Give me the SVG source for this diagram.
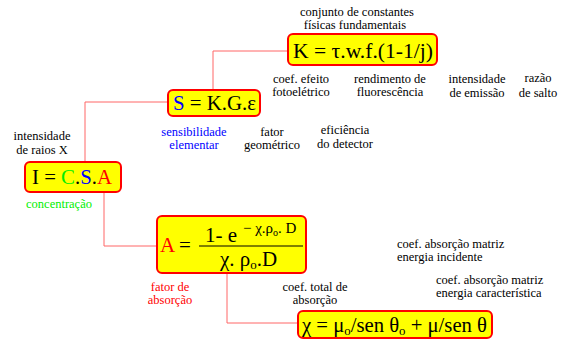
<svg xmlns="http://www.w3.org/2000/svg" width="562" height="341" viewBox="0 0 562 341">
<style>
text{font-family:"Liberation Serif","Times New Roman",serif;fill:#000}
.lb{font-size:12.5px;text-anchor:middle}
.ll{font-size:12.5px}
.box{fill:#ffff00;stroke:#ff0000;stroke-width:2}
.eq{font-size:21px}
.con{fill:none;stroke:#ff6666;stroke-width:1}
.red{fill:#ff0000}.blue{fill:#0000ff}.green{fill:#00ee00}
</style>
<rect width="562" height="341" fill="#fff"/>
<g id="connectors">
<path class="con" d="M288,51 H213 V90"/>
<path class="con" d="M168,102 H85 V162"/>
<path class="con" d="M104,192 V246 H157"/>
<path class="con" d="M227,273 V323 H298"/>
</g>
<g id="nodeK">
<rect class="box" x="288" y="34" width="149" height="31" rx="5"/>
<text class="eq" x="293" y="58" textLength="140" lengthAdjust="spacingAndGlyphs">K = τ.w.f.(1-1/j)</text>
</g>
<g id="nodeS">
<rect class="box" x="168" y="90" width="92" height="26" rx="5"/>
<text class="eq" x="173" y="110" textLength="83" lengthAdjust="spacingAndGlyphs"><tspan class="blue">S</tspan> = K.G.ε</text>
</g>
<g id="nodeI">
<rect class="box" x="25" y="162" width="96" height="30" rx="5"/>
<text class="eq" x="32" y="184" textLength="80" lengthAdjust="spacingAndGlyphs">I = <tspan class="green">C</tspan>.<tspan class="blue">S</tspan>.<tspan class="red">A</tspan></text>
</g>
<g id="nodeA">
<rect class="box" x="157" y="216" width="149" height="57" rx="5"/>
<text class="eq red" x="160" y="252">A</text>
<text class="eq" x="179" y="252">=</text>
<text class="eq" x="205" y="242">1- e</text>
<text x="243" y="233" style="font-size:15px">− χ.ρ<tspan style="font-size:10px" dy="3">o</tspan><tspan dy="-3">. D</tspan></text>
<line x1="199" y1="246" x2="303" y2="246" stroke="#000" stroke-width="1"/>
<text class="eq" x="220" y="266">χ. ρ<tspan style="font-size:13px" dy="3">o</tspan><tspan dy="-3">.D</tspan></text>
</g>
<g id="nodeChi">
<rect class="box" x="298" y="311" width="194" height="27" rx="5"/>
<text class="eq" x="302" y="332" textLength="185" lengthAdjust="spacingAndGlyphs">χ = μ<tspan style="font-size:13px" dy="3">o</tspan><tspan dy="-3">/sen θ</tspan><tspan style="font-size:13px" dy="3">o</tspan><tspan dy="-3"> + μ/sen θ</tspan></text>
</g>
<g id="labels">
<text class="lb" x="357" y="16">conjunto de constantes</text>
<text class="lb" x="355" y="29">físicas fundamentais</text>
<text class="lb" x="301" y="83">coef. efeito</text>
<text class="lb" x="301" y="96">fotoelétrico</text>
<text class="lb" x="390" y="83">rendimento de</text>
<text class="lb" x="390" y="96">fluorescência</text>
<text class="lb" x="477" y="83">intensidade</text>
<text class="lb" x="477" y="97">de emissão</text>
<text class="lb" x="538" y="82">razão</text>
<text class="lb" x="538" y="97">de salto</text>
<text class="lb blue" x="194" y="136">sensibilidade</text>
<text class="lb blue" x="194" y="149">elementar</text>
<text class="lb" x="272" y="136">fator</text>
<text class="lb" x="272" y="149">geométrico</text>
<text class="lb" x="345" y="134">eficiência</text>
<text class="lb" x="345" y="148">do detector</text>
<text class="lb" x="42" y="140">intensidade</text>
<text class="lb" x="42" y="154">de raios X</text>
<text class="lb green" x="59" y="208">concentração</text>
<text class="lb red" x="170" y="291">fator de</text>
<text class="lb red" x="170" y="304">absorção</text>
<text class="lb" x="315" y="291">coef. total de</text>
<text class="lb" x="315" y="304">absorção</text>
<text class="ll" x="397" y="248">coef. absorção matriz</text>
<text class="ll" x="397" y="261">energia incidente</text>
<text class="ll" x="436" y="284">coef. absorção matriz</text>
<text class="ll" x="436" y="297">energia característica</text>
</g>
</svg>
